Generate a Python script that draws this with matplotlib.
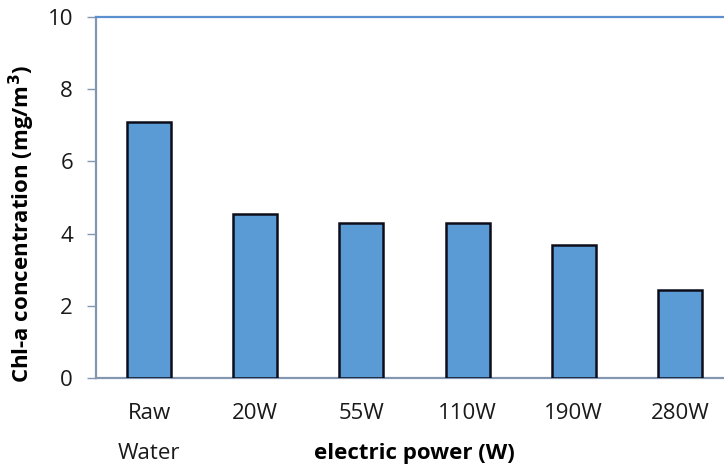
import numpy as np
import matplotlib.pyplot as plt

categories = ['Raw\nWater', '20W', '55W', '110W', '190W', '280W']
chl_a = [7.10, 4.53, 4.30, 4.30, 3.68, 2.44]
y_ticks = [0, 2, 4, 6, 8, 10]

plt.rcParams['font.family'] = ['Open Sans', 'DejaVu Sans']

fig = plt.figure(figsize=(7.24, 4.67), dpi=100)
# axes runs a little past the right edge of the picture, like the original
ax = fig.add_axes([96 / 724, 89 / 467, 637 / 724, 361 / 467])

x = np.arange(len(categories))
ax.bar(x, chl_a, width=0.415, color='#5b9bd5', edgecolor='#0d0d1a', linewidth=1.8, zorder=3)

ax.set_xlim(-0.5, len(categories) - 0.5)
ax.set_ylim(0, 10)
ax.set_yticks(y_ticks)
ax.set_xticks(x)
ax.set_xticklabels(categories, linespacing=2.2, va='top')

ax.tick_params(axis='x', length=0, pad=18, labelsize=16, colors='#1a1a1a')
ax.tick_params(axis='y', length=6.5, width=1, color='#8497b0', pad=10,
               labelsize=16, labelcolor='#1a1a1a')

ax.spines['right'].set_visible(False)
ax.spines['top'].set_color('#5b8fcf')
ax.spines['top'].set_linewidth(1.6)
for s in ['left', 'bottom']:
    ax.spines[s].set_color('#8497b0')
    ax.spines[s].set_linewidth(1.6)

ax.set_xlabel('electric power (W)', fontsize=16, fontweight='bold', va='center')
ax.xaxis.set_label_coords(0.5, -0.208)
ax.set_ylabel('Chl-a concentration (mg/m$^\\mathbf{3}$)', fontsize=16, fontweight='bold', va='center')
ax.yaxis.set_label_coords(-74 / 637, 0.427)

fig.savefig('out.png', dpi=100)
